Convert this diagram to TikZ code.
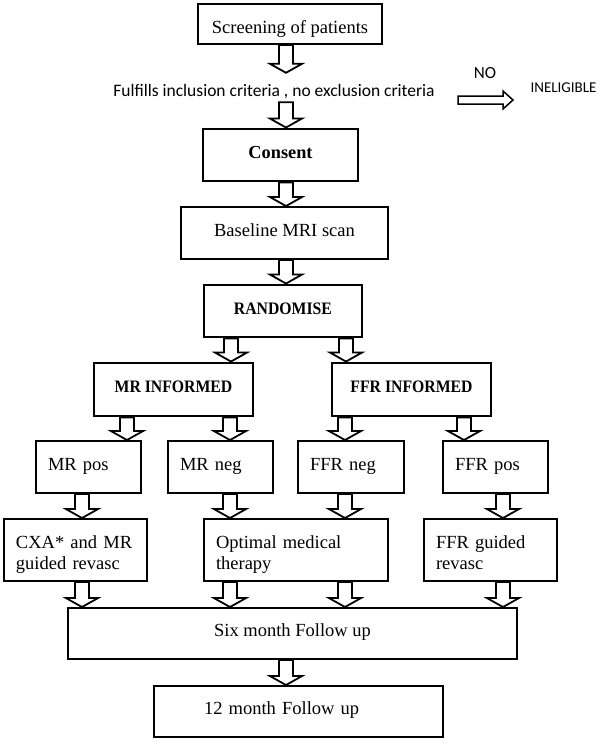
\documentclass[tikz,border=0pt]{standalone}
\usepackage{fontspec}
\setmainfont{Liberation Serif}
\newfontfamily\calfont{Carlito}
\newfontfamily\capfam{Liberation Serif}[FakeStretch=0.9]
\usetikzlibrary{calc,backgrounds}
\newcommand\fntreg{\fontsize{18.5}{21}\selectfont}
\newcommand\fntcap{\capfam\fontsize{17.5}{20}\selectfont\bfseries}
\newcommand\fntcon{\fontsize{18.3}{21}\selectfont\bfseries}
\newcommand\fntcal[1]{\calfont\fontsize{#1}{#1}\selectfont}
\tikzset{
  box/.style={draw, line width=1.9pt, inner sep=0pt, minimum height=52,
    font=\fntreg, text height=13, text depth=6.8},
  boldbox/.style={box, line width=2.9pt},
  leftbox/.style={box, align=left, inner xsep=12pt, text width=#1},
  twoline/.style={leftbox=#1, text height=13, text depth=16.8, minimum height=62},
  barrow/.style={draw, line width=1.8pt, fill=white, line join=miter,
    to path={let \p1=(\tikztostart), \p2=(\tikztotarget) in
      (\x1-7pt,\y1) -- (\x1+7pt,\y1) -- (\x1+7pt,\y2+9pt) -- (\x1+16pt,\y2+9pt)
      -- (\x1,\y2) -- (\x1-16pt,\y2+9pt) -- (\x1-7pt,\y2+9pt) -- cycle}},
  harrow/.style={draw, line width=1.5pt, fill=white, line join=miter,
    to path={let \p1=(\tikztostart), \p2=(\tikztotarget) in
      (\x1,\y1-4pt) -- (\x2-10pt,\y1-4pt) -- (\x2-10pt,\y1-9pt) -- (\x2,\y1)
      -- (\x2-10pt,\y1+9pt) -- (\x2-10pt,\y1+4pt) -- (\x1,\y1+4pt) -- cycle}}
}
\begin{document}
\begin{tikzpicture}[x=1pt,y=-1pt]
\useasboundingbox (0,0) rectangle (600,745);

% nodes
\node[box, minimum width=184, minimum height=40, text height=18.2, text depth=0] (screen) at (290,24) {Screening of patients};
\node[inner sep=0pt, minimum width=330, minimum height=29, font=\fntcal{17.5}, text height=18.2, text depth=0] (fulfil) at (274,87.5) {Fulfills inclusion criteria , no exclusion criteria};
\node[font=\fntcal{17}, inner sep=0pt] (no) at (485,73) {NO};
\node[font=\fntcal{15}, inner sep=0pt] (inel) at (563.5,87.5) {INELIGIBLE};
\coordinate (noS) at (458,100);
\coordinate (noE) at (513,100);

\node[boldbox, minimum width=155, font=\fntcon] (consent) at (280.5,155) {Consent};
\node[box, minimum width=207] (base) at (284.5,233) {Baseline MRI scan};
\node[boldbox, minimum width=158, font=\fntcap] (rand) at (283,311) {RANDOMISE};
\node[boldbox, minimum width=159, minimum height=53, font=\fntcap] (mrinf) at (173.5,389.5) {MR INFORMED};
\node[boldbox, minimum width=159, minimum height=53, font=\fntcap] (ffrinf) at (411.5,389.5) {FFR INFORMED};

\node[leftbox=81, minimum width=105] (mrpos) at (88.5,467) {MR pos};
\node[leftbox=81, minimum width=105] (mrneg) at (220.5,467) {MR neg};
\node[leftbox=82, minimum width=106] (ffrneg) at (351,467) {FFR neg};
\node[leftbox=81, minimum width=105] (ffrpos) at (495.5,467) {FFR pos};

\node[twoline=119, minimum width=143] (cxa) at (75.5,550) {CXA* and MR\\guided revasc};
\node[twoline=160, minimum width=184] (omt) at (296,550) {Optimal medical\\therapy};
\node[twoline=109, minimum width=133] (ffrg) at (490.5,550) {FFR guided\\revasc};

\node[box, minimum width=449, minimum height=51] (six) at (292.5,633.5) {Six month Follow up};
\node[leftbox=189, inner xsep=50pt, minimum width=289, minimum height=51] (twelve) at (298.5,711.5) {12 month Follow up};

% arrow columns
\coordinate (cc) at (286,0);
\coordinate (cA) at (231,0);
\coordinate (cB) at (346,0);
\coordinate (k1) at (127,0);
\coordinate (k2) at (230,0);
\coordinate (k3) at (345,0);
\coordinate (k4) at (464,0);
\coordinate (m1) at (82,0);
\coordinate (m4) at (503,0);

\begin{scope}[on background layer]
\fill[white] (0,0) rectangle (600,745);
\draw[barrow] (screen.south -| cc) to (fulfil.north -| cc);
\draw[barrow] (fulfil.south -| cc) to (consent.north -| cc);
\draw[barrow] (consent.south -| cc) to (base.north -| cc);
\draw[barrow] (base.south -| cc) to (rand.north -| cc);
\draw[barrow] (rand.south -| cA) to (mrinf.north -| cA);
\draw[barrow] (rand.south -| cB) to (ffrinf.north -| cB);
\draw[barrow] (mrinf.south -| k1) to (mrpos.north -| k1);
\draw[barrow] (mrinf.south -| k2) to (mrneg.north -| k2);
\draw[barrow] (ffrinf.south -| k3) to (ffrneg.north -| k3);
\draw[barrow] (ffrinf.south -| k4) to (ffrpos.north -| k4);
\draw[barrow] (mrpos.south -| m1) to (cxa.north -| m1);
\draw[barrow] (mrneg.south -| k2) to (omt.north -| k2);
\draw[barrow] (ffrneg.south -| k3) to (omt.north -| k3);
\draw[barrow] (ffrpos.south -| m4) to (ffrg.north -| m4);
\draw[barrow] (cxa.south -| m1) to (six.north -| m1);
\draw[barrow] (omt.south -| k2) to (six.north -| k2);
\draw[barrow] (omt.south -| k3) to (six.north -| k3);
\draw[barrow] (ffrg.south -| m4) to (six.north -| m4);
\draw[barrow] (six.south -| cc) to (twelve.north -| cc);
\draw[harrow] (noS) to (noE);
\end{scope}
\end{tikzpicture}
\end{document}
